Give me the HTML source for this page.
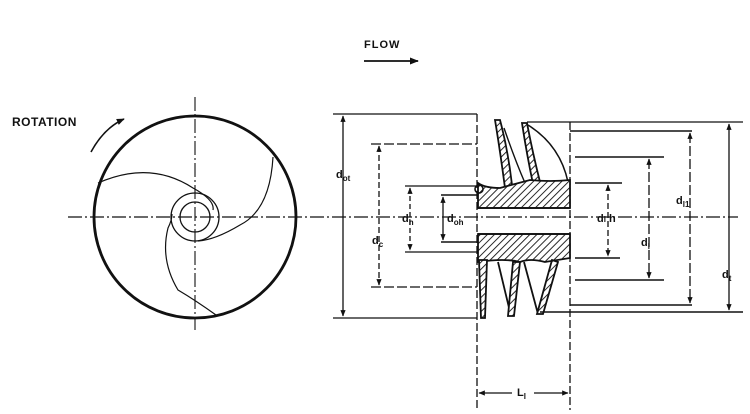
<!DOCTYPE html>
<html><head><meta charset="utf-8"><style>
html,body{margin:0;padding:0;background:#fff}
svg{display:block}
text{font-family:"Liberation Sans",sans-serif;fill:#111;font-weight:bold}
</style></head><body>
<svg width="750" height="414" viewBox="0 0 750 414" xmlns="http://www.w3.org/2000/svg">
<defs>
<pattern id="h" width="5" height="5" patternUnits="userSpaceOnUse" patternTransform="rotate(45)">
<rect width="5" height="5" fill="#fff"/><line x1="0" y1="0" x2="0" y2="5" stroke="#111" stroke-width="1.8"/>
</pattern>
<marker id="a" viewBox="0 0 10 10" refX="9" refY="5" markerWidth="5" markerHeight="5" orient="auto-start-reverse"><path d="M0,1 L10,5 L0,9z" fill="#111"/></marker>
</defs>
<g stroke="#111" fill="none">
<text x="364" y="48" font-size="11" stroke="none" letter-spacing="1">FLOW</text>
<line x1="364" y1="61" x2="418" y2="61" stroke-width="1.8" marker-end="url(#a)"/>
<text x="12" y="126" font-size="12" stroke="none" letter-spacing="0.5">ROTATION</text>
<path d="M91,152 Q104,128 124,119" stroke-width="1.6" marker-end="url(#a)"/>
<line x1="68" y1="217" x2="738" y2="217" stroke-width="1.2" stroke-dasharray="14,3,2,3"/>
<line x1="195" y1="97" x2="195" y2="330" stroke-width="1.1" stroke-dasharray="14,3,2,3"/>
<circle cx="195" cy="217" r="101" stroke-width="2.8"/>
<circle cx="195" cy="217" r="24" stroke-width="1.3"/>
<circle cx="195" cy="217" r="15" stroke-width="1.3"/>
<path d="M98,183 Q150,160 193,188 Q215,200 213,210" stroke-width="1.2"/>
<path d="M273,157 Q270,210 240,225 Q215,240 198,241" stroke-width="1.2"/>
<path d="M216,315 Q195,300 178,290 Q160,260 168,228 Q172,220 172,214" stroke-width="1.2"/>
<line x1="333" y1="114" x2="477" y2="114" stroke-width="1.3"/>
<line x1="333" y1="318" x2="477" y2="318" stroke-width="1.3"/>
<line x1="343" y1="116" x2="343" y2="316" stroke-width="1.3" marker-start="url(#a)" marker-end="url(#a)"/>
<text x="336" y="178" font-size="11" stroke="none">d<tspan font-size="8" dy="3">ot</tspan></text>
<line x1="371" y1="144" x2="477" y2="144" stroke-width="1.3" stroke-dasharray="10,3"/>
<line x1="371" y1="287" x2="477" y2="287" stroke-width="1.3" stroke-dasharray="10,3"/>
<line x1="379" y1="146" x2="379" y2="285" stroke-width="1.3" stroke-dasharray="6,3" marker-start="url(#a)" marker-end="url(#a)"/>
<text x="372" y="244" font-size="11" stroke="none">d<tspan font-size="8" dy="3">c</tspan></text>
<line x1="405" y1="186" x2="477" y2="186" stroke-width="1.3"/>
<line x1="405" y1="252" x2="477" y2="252" stroke-width="1.3"/>
<line x1="410" y1="188" x2="410" y2="250" stroke-width="1.3" stroke-dasharray="5,3" marker-start="url(#a)" marker-end="url(#a)"/>
<text x="402" y="222" font-size="11" stroke="none">d<tspan font-size="8" dy="3">h</tspan></text>
<line x1="441" y1="195" x2="477" y2="195" stroke-width="1.6"/>
<line x1="441" y1="242" x2="477" y2="242" stroke-width="1.6"/>
<line x1="443" y1="197" x2="443" y2="240" stroke-width="1.3" marker-start="url(#a)" marker-end="url(#a)"/>
<text x="447" y="222" font-size="11" stroke="none">d<tspan font-size="8" dy="3">oh</tspan></text>
<line x1="477" y1="114" x2="477" y2="410" stroke-width="1.3" stroke-dasharray="8,3"/>
<line x1="570" y1="122" x2="570" y2="410" stroke-width="1.3" stroke-dasharray="8,3"/>
<path d="M495,120 L500,120 Q508,150 512,185 L505,188 Q500,150 495,120z" fill="url(#h)" stroke-width="1.8"/>
<path d="M522,123 L527,123 Q532,150 540,182 L533,184 Q526,150 522,123z" fill="url(#h)" stroke-width="1.8"/>
<path d="M528,125 Q560,145 568,182" stroke-width="1.5"/>
<path d="M504,128 Q515,160 525,183" stroke-width="1.4"/>
<path d="M478,183 Q485,188 500,188 L530,180 Q550,182 570,180 L570,208 L478,208z" fill="url(#h)" stroke-width="1.8"/>
<path d="M478,234 L570,234 L570,258 L545,262 Q530,258 520,262 Q505,258 478,262z" fill="url(#h)" stroke-width="1.8"/>
<line x1="478" y1="208" x2="570" y2="208" stroke-width="1.8"/>
<line x1="478" y1="234" x2="570" y2="234" stroke-width="1.8"/>
<circle cx="479" cy="189" r="4" stroke-width="1.6"/>
<path d="M479,260 L487,260 L485,318 L481,318z" fill="url(#h)" stroke-width="1.8"/>
<path d="M498,262 L511,316" stroke-width="1.8"/>
<path d="M513,262 L520,262 L514,316 L508,316z" fill="url(#h)" stroke-width="1.8"/>
<path d="M524,262 L538,314" stroke-width="1.8"/>
<path d="M552,260 L558,262 L543,314 L537,314z" fill="url(#h)" stroke-width="1.8"/>
<line x1="575" y1="183" x2="622" y2="183" stroke-width="1.5"/>
<line x1="575" y1="258" x2="620" y2="258" stroke-width="1.5"/>
<line x1="608" y1="185" x2="608" y2="256" stroke-width="1.3" stroke-dasharray="6,3" marker-start="url(#a)" marker-end="url(#a)"/>
<text x="597" y="222" font-size="11" stroke="none">d<tspan font-size="8">l</tspan> h</text>
<line x1="575" y1="157" x2="664" y2="157" stroke-width="1.5"/>
<line x1="575" y1="280" x2="664" y2="280" stroke-width="1.5"/>
<line x1="649" y1="159" x2="649" y2="278" stroke-width="1.3" stroke-dasharray="10,3" marker-start="url(#a)" marker-end="url(#a)"/>
<text x="641" y="246" font-size="11" stroke="none">d<tspan font-size="8" dy="3">l</tspan></text>
<line x1="570" y1="131" x2="692" y2="131" stroke-width="1.5"/>
<line x1="570" y1="305" x2="692" y2="305" stroke-width="1.5"/>
<line x1="690" y1="133" x2="690" y2="303" stroke-width="1.3" stroke-dasharray="10,3" marker-start="url(#a)" marker-end="url(#a)"/>
<text x="676" y="204" font-size="11" stroke="none">d<tspan font-size="8" dy="3">l1</tspan></text>
<line x1="527" y1="122" x2="743" y2="122" stroke-width="1.3"/>
<line x1="540" y1="312" x2="743" y2="312" stroke-width="1.5"/>
<line x1="729" y1="124" x2="729" y2="310" stroke-width="1.3" marker-start="url(#a)" marker-end="url(#a)"/>
<text x="722" y="278" font-size="11" stroke="none">d<tspan font-size="8" dy="3">t</tspan></text>
<line x1="479" y1="393" x2="512" y2="393" stroke-width="1.3" marker-start="url(#a)"/>
<line x1="534" y1="393" x2="568" y2="393" stroke-width="1.3" marker-end="url(#a)"/>
<text x="517" y="396" font-size="11" stroke="none">L<tspan font-size="8" dy="3">l</tspan></text>
</g>
</svg>
</body></html>
